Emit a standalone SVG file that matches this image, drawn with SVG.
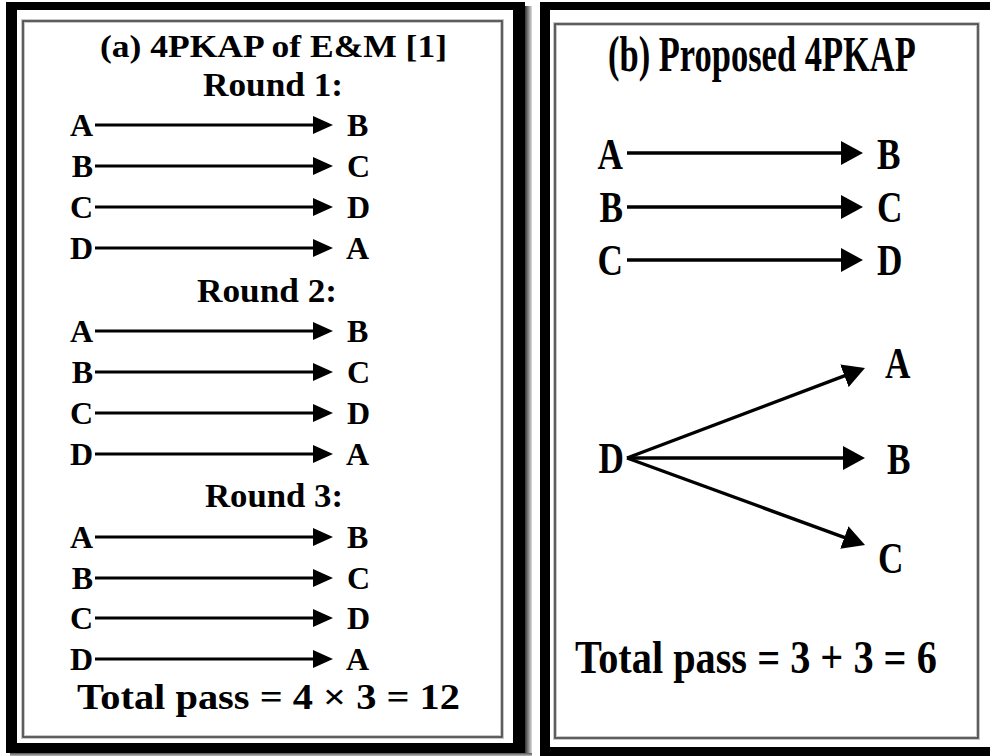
<svg xmlns="http://www.w3.org/2000/svg" width="990" height="756" viewBox="0 0 990 756">
  <defs>
    <!-- arrowheads: small for panel (a), larger for panel (b) -->
    <marker id="headL" markerUnits="userSpaceOnUse" viewBox="0 0 20 18" markerWidth="20" markerHeight="18" refX="2" refY="9" orient="auto">
      <path d="M0,0 L20,9 L0,18 Z" fill="#000"/>
    </marker>
    <marker id="headR" markerUnits="userSpaceOnUse" viewBox="0 0 22 24" markerWidth="22" markerHeight="24" refX="2" refY="12" orient="auto">
      <path d="M0,0 L22,12 L0,24 Z" fill="#000"/>
    </marker>
    <linearGradient id="shadeX" x1="0" x2="1" y1="0" y2="0">
      <stop offset="0" stop-color="#333"/>
      <stop offset="1" stop-color="#ddd"/>
    </linearGradient>
    <linearGradient id="shadeY" x1="0" x2="0" y1="0" y2="1">
      <stop offset="0" stop-color="#555"/>
      <stop offset="1" stop-color="#ddd"/>
    </linearGradient>
  </defs>
  <style>
    .t{font-family:"Liberation Serif","Times New Roman",serif;font-weight:bold;fill:#000}
    .ls{font-size:32px}
    .rs{font-size:44px}
    .halo{fill:none;stroke:#c8c8c8;stroke-width:4}
    .edge{fill:none;stroke:#444;stroke-width:1.6}
    .al{stroke:#000;stroke-width:3;fill:none;marker-end:url(#headL)}
    .ar{stroke:#000;stroke-width:3.4;fill:none;marker-end:url(#headR)}
  </style>

  <rect x="0" y="0" width="990" height="756" fill="#fff"/>

  <!-- panel (a) frame -->
  <g id="frame-a">
    <rect x="525" y="6" width="7" height="750" fill="url(#shadeX)"/>
    <rect x="10" y="753" width="522" height="4" fill="url(#shadeY)"/>
    <rect x="6" y="2" width="519" height="751" fill="#000"/>
    <rect x="17" y="10" width="496" height="733" fill="#fff"/>
    <rect x="23" y="21" width="479" height="716" class="halo"/>
    <rect x="23" y="21" width="479" height="716" class="edge"/>
  </g>

  <!-- panel (b) frame -->
  <g id="frame-b">
    <rect x="540" y="2" width="460" height="760" fill="#000"/>
    <rect x="550" y="10" width="450" height="737" fill="#fff"/>
    <rect x="555" y="24" width="423" height="714" class="halo"/>
    <rect x="555" y="24" width="423" height="714" class="edge"/>
  </g>

  <!-- panel (a) captions -->
  <g id="titles-a" class="t">
    <text x="100" y="57" font-size="31" textLength="347" lengthAdjust="spacingAndGlyphs">(a) 4PKAP of E&amp;M [1]</text>
    <text x="203" y="96" font-size="33" textLength="140" lengthAdjust="spacingAndGlyphs">Round 1:</text>
    <text x="197" y="302" font-size="33" textLength="140" lengthAdjust="spacingAndGlyphs">Round 2:</text>
    <text x="205" y="507" font-size="33" textLength="138" lengthAdjust="spacingAndGlyphs">Round 3:</text>
    <text x="77" y="709" font-size="35" textLength="383" lengthAdjust="spacingAndGlyphs">Total pass = 4 × 3 = 12</text>
  </g>

  <!-- panel (a) parties, left column (senders) -->
  <g id="nodes-a-src" class="t ls" text-anchor="end">
    <g id="r1-src"><text x="93" y="136">A</text><text x="93" y="177">B</text><text x="93" y="218">C</text><text x="93" y="259">D</text></g>
    <g id="r2-src"><text x="93" y="342">A</text><text x="93" y="383">B</text><text x="93" y="424">C</text><text x="93" y="465">D</text></g>
    <g id="r3-src"><text x="93" y="548">A</text><text x="93" y="589">B</text><text x="93" y="629">C</text><text x="93" y="670">D</text></g>
  </g>

  <!-- panel (a) parties, right column (receivers) -->
  <g id="nodes-a-dst" class="t ls">
    <g id="r1-dst"><text x="347" y="136">B</text><text x="347" y="177">C</text><text x="347" y="218">D</text><text x="346" y="259">A</text></g>
    <g id="r2-dst"><text x="347" y="342">B</text><text x="347" y="383">C</text><text x="347" y="424">D</text><text x="346" y="465">A</text></g>
    <g id="r3-dst"><text x="347" y="548">B</text><text x="347" y="589">C</text><text x="347" y="629">D</text><text x="346" y="670">A</text></g>
  </g>

  <!-- panel (b) captions: tall, narrow lettering -->
  <g id="titles-b" class="t">
    <text transform="translate(608,71) scale(0.69,1)" font-size="50">(b) Proposed 4PKAP</text>
    <text transform="translate(575,673) scale(0.876,1)" font-size="46">Total pass = 3 + 3 = 6</text>
  </g>

  <!-- panel (b) parties -->
  <g id="nodes-b" class="t rs">
    <g id="b-A1"><text transform="translate(623,169) scale(0.8,1)" text-anchor="end">A</text></g>
    <g id="b-B1"><text transform="translate(623,222) scale(0.8,1)" text-anchor="end">B</text></g>
    <g id="b-C1"><text transform="translate(623,275) scale(0.8,1)" text-anchor="end">C</text></g>
    <g id="b-D1"><text transform="translate(624,473) scale(0.8,1)" text-anchor="end">D</text></g>
    <g id="b-B2"><text transform="translate(877,169) scale(0.8,1)">B</text></g>
    <g id="b-C2"><text transform="translate(877,222) scale(0.8,1)">C</text></g>
    <g id="b-D2"><text transform="translate(877,275) scale(0.8,1)">D</text></g>
    <g id="b-A3"><text transform="translate(885,378) scale(0.8,1)">A</text></g>
    <g id="b-B3"><text transform="translate(887,474) scale(0.8,1)">B</text></g>
    <g id="b-C3"><text transform="translate(878,573) scale(0.8,1)">C</text></g>
  </g>

  <!-- connectors -->
  <g id="connectors">
    <g id="links-a">
      <line class="al" x1="95" y1="125" x2="315" y2="125"/>
      <line class="al" x1="95" y1="166" x2="315" y2="166"/>
      <line class="al" x1="95" y1="207" x2="315" y2="207"/>
      <line class="al" x1="95" y1="248" x2="315" y2="248"/>
      <line class="al" x1="95" y1="331" x2="315" y2="331"/>
      <line class="al" x1="95" y1="372" x2="315" y2="372"/>
      <line class="al" x1="95" y1="413" x2="315" y2="413"/>
      <line class="al" x1="95" y1="454" x2="315" y2="454"/>
      <line class="al" x1="95" y1="537" x2="315" y2="537"/>
      <line class="al" x1="95" y1="578" x2="315" y2="578"/>
      <line class="al" x1="95" y1="618" x2="315" y2="618"/>
      <line class="al" x1="95" y1="659" x2="315" y2="659"/>
    </g>
    <g id="links-b">
      <line class="ar" x1="627" y1="153" x2="843" y2="153"/>
      <line class="ar" x1="627" y1="207" x2="843" y2="207"/>
      <line class="ar" x1="627" y1="260" x2="843" y2="260"/>
      <line class="ar" x1="627" y1="458" x2="846.3" y2="375.1"/>
      <line class="ar" x1="627" y1="458" x2="845" y2="458"/>
      <line class="ar" x1="627" y1="458" x2="846.2" y2="538.1"/>
    </g>
  </g>
</svg>
